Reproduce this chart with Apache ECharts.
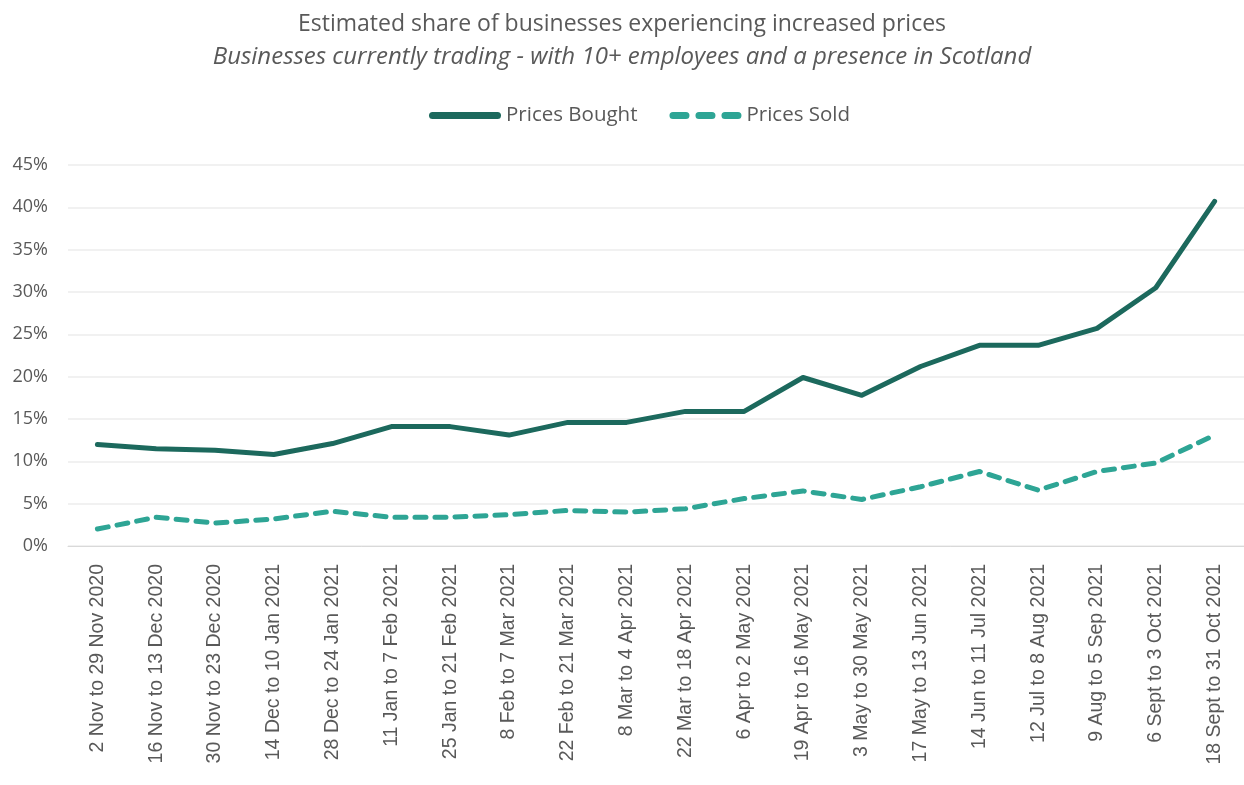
<!DOCTYPE html>
<html>
<head>
<meta charset="utf-8">
<script src="https://cdn.jsdelivr.net/npm/echarts@6/dist/echarts.min.js"></script>
<style>
  html, body { margin: 0; padding: 0; background: #fff; }
  #chart { width: 1244px; height: 785px; }
</style>
</head>
<body>
<div id="chart"></div>
<script>
// Survey periods (two-week waves)
const periods = [
  '2 Nov to 29 Nov 2020', '16 Nov to 13 Dec 2020', '30 Nov to 23 Dec 2020',
  '14 Dec to 10 Jan 2021', '28 Dec to 24 Jan 2021', '11 Jan to 7 Feb 2021',
  '25 Jan to 21 Feb 2021', '8 Feb to 7 Mar 2021', '22 Feb to 21 Mar 2021',
  '8 Mar to 4 Apr 2021', '22 Mar to 18 Apr 2021', '6 Apr to 2 May 2021',
  '19 Apr to 16 May 2021', '3 May to 30 May 2021', '17 May to 13 Jun 2021',
  '14 Jun to 11 Jul 2021', '12 Jul to 8 Aug 2021', '9 Aug to 5 Sep 2021',
  '6 Sept to 3 Oct 2021', '18 Sept to 31 Oct 2021'
];

// Share of businesses (%) reporting higher prices
const pricesBought = [12.0, 11.5, 11.3, 10.8, 12.1, 14.1, 14.1, 13.1, 14.6, 14.6,
                      15.9, 15.9, 19.9, 17.8, 21.2, 23.7, 23.7, 25.7, 30.5, 40.7];
const pricesSold   = [2.0, 3.4, 2.7, 3.2, 4.1, 3.4, 3.4, 3.7, 4.2, 4.0,
                      4.4, 5.6, 6.5, 5.5, 7.0, 8.8, 6.6, 8.8, 9.8, 13.1];

const titleText = 'Estimated share of businesses experiencing increased prices';
const subtitleText = 'Businesses currently trading - with 10+ employees and a presence in Scotland';

const textColor = '#595959';
const mainFont = '"Open Sans", Lato, sans-serif';
const boughtColor = '#1c695d';
const soldColor = '#2ea595';

// Legend keys: a solid rounded bar and three rounded dashes
const solidIcon = 'path://M3.5,0h65a3.5,3.5 0 0 1 0,7h-65a3.5,3.5 0 0 1 0,-7z';
const dashIcon = 'path://M3.5,0h13a3.5,3.5 0 0 1 0,7h-13a3.5,3.5 0 0 1 0,-7z' +
  'M29.5,0h13a3.5,3.5 0 0 1 0,7h-13a3.5,3.5 0 0 1 0,-7z' +
  'M55.5,0h13a3.5,3.5 0 0 1 0,7h-13a3.5,3.5 0 0 1 0,-7z';

const chart = echarts.init(document.getElementById('chart'), null, { renderer: 'canvas' });

chart.setOption({
  backgroundColor: '#ffffff',
  animation: false,
  title: {
    text: titleText,
    subtext: subtitleText,
    left: 'center',
    top: 8,
    itemGap: 9,
    textStyle: { color: textColor, fontFamily: mainFont, fontSize: 23, fontWeight: 'normal' },
    subtextStyle: { color: textColor, fontFamily: mainFont, fontSize: 24, fontStyle: 'italic' }
  },
  legend: {
    top: 100,
    left: 424,
    itemWidth: 72,
    itemHeight: 7,
    itemGap: 32,
    textStyle: { color: textColor, fontFamily: mainFont, fontSize: 20.5 },
    data: [
      { name: 'Prices Bought', icon: solidIcon, itemStyle: { color: boughtColor } },
      { name: 'Prices Sold', icon: dashIcon, itemStyle: { color: soldColor } }
    ]
  },
  grid: { left: 68, right: 0, top: 165, bottom: 239, containLabel: false },
  xAxis: {
    type: 'category',
    data: periods,
    boundaryGap: true,
    axisLine: { show: true, lineStyle: { color: '#d9d9d9', width: 1 } },
    axisTick: { show: false },
    axisLabel: {
      rotate: 90,
      interval: 0,
      margin: 18,
      color: textColor,
      fontFamily: '"Liberation Sans", Arial, sans-serif',
      fontSize: 19.5
    }
  },
  yAxis: {
    type: 'value',
    min: 0,
    max: 45,
    interval: 5,
    axisLine: { show: false },
    axisTick: { show: false },
    axisLabel: {
      formatter: '{value}%',
      margin: 20,
      color: textColor,
      fontFamily: mainFont,
      fontSize: 18
    },
    splitLine: { lineStyle: { color: '#ececec', width: 1.5 } }
  },
  series: [
    {
      name: 'Prices Bought',
      type: 'line',
      data: pricesBought,
      symbol: 'none',
      color: boughtColor,
      lineStyle: { color: boughtColor, width: 5, cap: 'round', join: 'round' }
    },
    {
      name: 'Prices Sold',
      type: 'line',
      data: pricesSold,
      symbol: 'none',
      color: soldColor,
      lineStyle: { color: soldColor, width: 5, type: [11, 9], cap: 'round', join: 'round' }
    }
  ]
});
</script>
</body>
</html>
